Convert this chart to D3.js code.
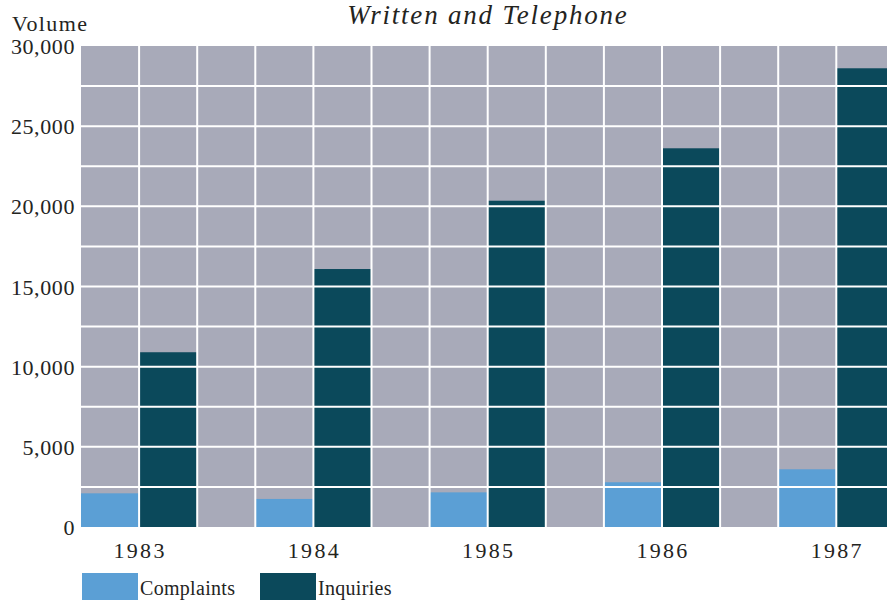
<!DOCTYPE html>
<html>
<head>
<meta charset="utf-8">
<script src="https://cdn.jsdelivr.net/npm/d3@7"></script>
<style>
  body { margin: 0; background: #fff; }
  svg text { font-family: "Liberation Serif", "DejaVu Serif", serif; fill: #24241e; }
</style>
</head>
<body>
<svg id="chart"></svg>
<script>
// Written and Telephone - complaints vs inquiries volume
const width = 887;
const height = 600;

const years = ["1983", "1984", "1985", "1986", "1987"];
const series = ["Complaints", "Inquiries"];
const complaints = [2100, 1750, 2160, 2790, 3600];
const inquiries = [10900, 16090, 20350, 23620, 28610];
const yTicks = [0, 5000, 10000, 15000, 20000, 25000, 30000];

const colors = { Complaints: "#5b9fd5", Inquiries: "#0b495b" };

const svg = d3.select("#chart")
    .attr("width", width)
    .attr("height", height);

const plotLeft = 81, plotTop = 46, plotBottom = 527;
const colW = 58.1;

// each year gets three columns: complaints, inquiries, empty gap
const x = d3.scaleBand()
    .domain(years)
    .range([plotLeft, plotLeft + colW * 3 * years.length]);

const xInner = d3.scaleBand()
    .domain([...series, "gap"])
    .range([0, x.bandwidth()]);

const y = d3.scaleLinear()
    .domain([0, 30000])
    .range([plotBottom, plotTop]);

// plot background
svg.append("rect")
    .attr("x", plotLeft)
    .attr("y", plotTop)
    .attr("width", x.range()[1] - plotLeft)
    .attr("height", plotBottom - plotTop)
    .attr("fill", "#a8aab9");

// bars
const rows = years.map((yr, i) => ({ year: yr, Complaints: complaints[i], Inquiries: inquiries[i] }));

const groups = svg.append("g").selectAll("g")
    .data(rows)
    .enter()
    .append("g")
    .attr("transform", d => `translate(${x(d.year)},0)`);

groups.selectAll("rect")
    .data(d => series.map(s => ({ key: s, value: d[s] })))
    .enter()
    .append("rect")
    .attr("x", d => xInner(d.key))
    .attr("y", d => y(d.value))
    .attr("width", xInner.bandwidth())
    .attr("height", d => plotBottom - y(d.value))
    .attr("fill", d => colors[d.key]);

// white grid drawn over bars
const grid = svg.append("g").attr("stroke", "#ffffff").attr("stroke-width", 2);

grid.selectAll(".h")
    .data(d3.range(2500, 30000, 2500))
    .enter()
    .append("line")
    .attr("x1", plotLeft)
    .attr("x2", x.range()[1])
    .attr("y1", d => y(d))
    .attr("y2", d => y(d));

const colEdges = [];
years.forEach(yr => {
    xInner.domain().forEach(k => colEdges.push(x(yr) + xInner(k)));
});
grid.selectAll(".v")
    .data(colEdges.slice(1))
    .enter()
    .append("line")
    .attr("x1", d => d)
    .attr("x2", d => d)
    .attr("y1", plotTop)
    .attr("y2", plotBottom);

// y axis labels
svg.append("g").selectAll("text")
    .data(yTicks)
    .enter()
    .append("text")
    .attr("x", 75)
    .attr("y", d => y(d) + 8)
    .attr("text-anchor", "end")
    .attr("font-size", 22)
    .attr("letter-spacing", 0.6)
    .text(d => d3.format(",")(d));

svg.append("text")
    .attr("x", 12)
    .attr("y", 31)
    .attr("font-size", 22)
    .attr("letter-spacing", 1.4)
    .text("Volume");

// title
svg.append("text")
    .attr("x", 488)
    .attr("y", 24)
    .attr("text-anchor", "middle")
    .attr("font-size", 27)
    .attr("font-style", "italic")
    .attr("letter-spacing", 1.8)
    .text("Written and Telephone");

// year labels, centred between the two bars
svg.append("g").selectAll("text")
    .data(years)
    .enter()
    .append("text")
    .attr("x", d => x(d) + xInner("Inquiries") + 1)
    .attr("y", 558)
    .attr("text-anchor", "middle")
    .attr("font-size", 22)
    .attr("letter-spacing", 2.3)
    .text(d => d);

// legend
const legend = svg.append("g").selectAll("g")
    .data(series)
    .enter()
    .append("g")
    .attr("transform", (d, i) => `translate(${82 + i * 178},573)`);

legend.append("rect")
    .attr("width", 56)
    .attr("height", 27)
    .attr("fill", d => colors[d]);

legend.append("text")
    .attr("x", 58)
    .attr("y", 22)
    .attr("font-size", 20)
    .attr("letter-spacing", 0.3)
    .text(d => d);
</script>
</body>
</html>
